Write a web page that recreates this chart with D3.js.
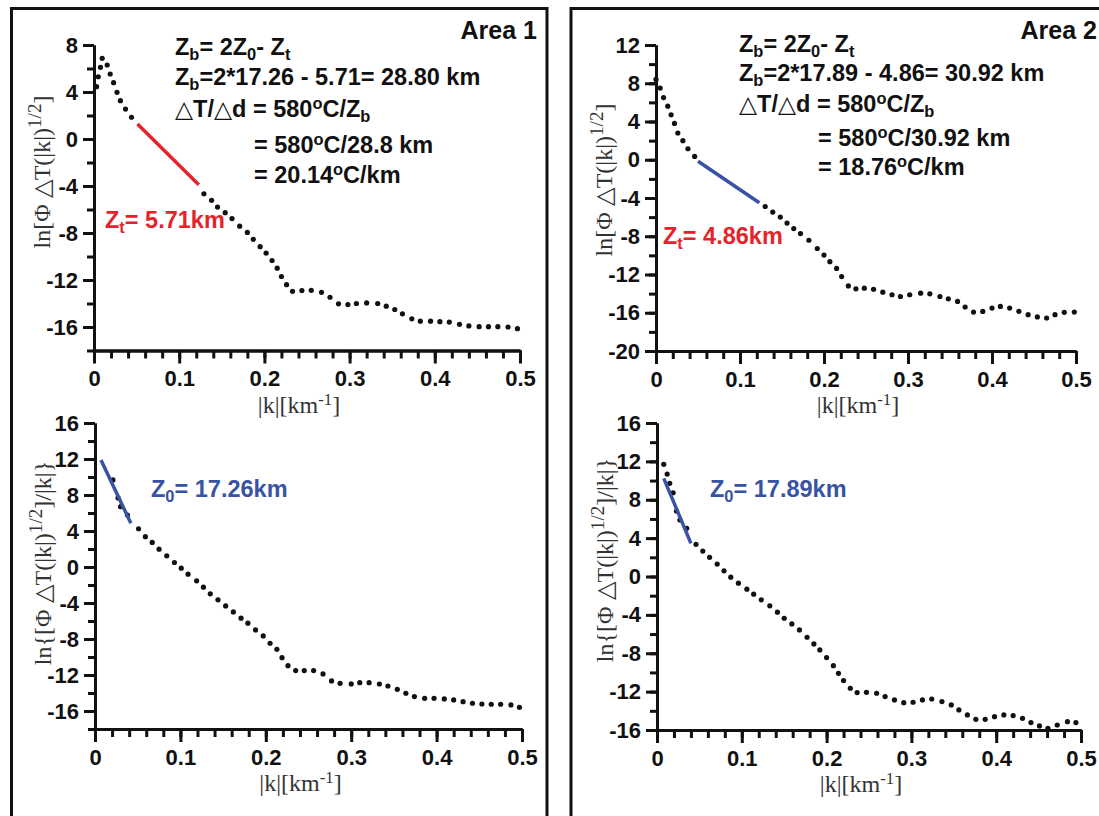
<!DOCTYPE html>
<html>
<head>
<meta charset="utf-8">
<script src="https://cdn.jsdelivr.net/npm/d3@7"></script>
<style>
  body { margin: 0; background: #fff; }
  svg { display: block; }
  .tick text { font-family: "Liberation Sans", Arial, sans-serif; font-weight: bold; font-size: 22px; fill: #111; }
  .note { font-family: "Liberation Sans", Arial, sans-serif; font-weight: bold; font-size: 23.5px; }
  .area { font-family: "Liberation Sans", Arial, sans-serif; font-weight: bold; font-size: 25px; fill: #111; }
  .title { font-family: "Liberation Serif", "Times New Roman", serif; font-size: 24px; fill: #333; }
</style>
</head>
<body>
<svg id="chart" width="1099" height="816"></svg>
<script>
// ---- data ----
const xMajor = [0, 0.1, 0.2, 0.3, 0.4, 0.5];

// Area 1, ln of amplitude spectrum
const kTop1 = [0.003,0.005,0.0076,0.0096,0.0155,0.019,0.023,0.027,0.031,0.037,0.044,
  0.129,0.138,0.145,0.154,0.162,0.171,0.180,0.187,0.195,0.202,0.209,0.215,0.220,0.226,0.233,
  0.244,0.255,0.267,0.277,0.287,0.298,0.308,0.320,0.333,0.343,0.353,0.362,0.373,0.383,
  0.395,0.406,0.417,0.429,0.440,0.452,0.463,0.474,0.486,0.497];
const lnTop1 = [4.45,5.30,6.10,6.87,6.30,5.53,4.79,3.97,3.26,2.55,1.85,
  -4.66,-5.22,-5.79,-6.27,-6.77,-7.42,-7.95,-8.54,-9.16,-9.72,-10.34,-10.99,-11.70,-12.4,-12.96,
  -12.9,-12.88,-13.05,-13.47,-14.03,-14.09,-14.0,-13.95,-14.0,-14.23,-14.51,-14.88,-15.3,-15.5,
  -15.5,-15.55,-15.58,-15.77,-15.91,-15.97,-15.97,-15.97,-16.0,-16.14];
const fitTop1 = [[0.051, 1.28], [0.123, -3.9]];

// Area 2, ln of amplitude spectrum
const kTop2 = [0.0,0.005,0.009,0.014,0.018,0.022,0.026,0.032,0.038,0.046,
  0.130,0.139,0.148,0.156,0.164,0.172,0.182,0.192,0.200,0.207,0.215,0.221,0.229,0.238,0.248,
  0.259,0.270,0.281,0.291,0.302,0.315,0.326,0.338,0.348,0.359,0.368,0.378,0.389,0.400,0.410,
  0.421,0.432,0.443,0.454,0.465,0.475,0.486,0.498];
const lnTop2 = [8.4,7.5,6.5,5.6,4.7,3.8,2.8,2.0,1.15,0.35,
  -4.89,-5.47,-5.99,-6.62,-7.2,-7.72,-8.42,-9.28,-9.97,-10.66,-11.36,-12.22,-13.19,-13.5,-13.43,
  -13.54,-13.85,-14.12,-14.3,-14.12,-13.95,-14.02,-14.3,-14.54,-14.82,-15.4,-15.93,-15.86,-15.51,-15.34,
  -15.51,-15.85,-16.2,-16.44,-16.55,-16.2,-15.96,-15.93];
const fitTop2 = [[0.05, -0.15], [0.123, -4.5]];

// Area 1, ln of amplitude / |k|
const kBot1 = [0.021,0.027,0.030,0.038,0.051,0.059,0.067,0.075,0.084,0.093,
  0.101,0.109,0.119,0.127,0.135,0.144,0.153,0.162,0.171,0.179,
  0.188,0.197,0.205,0.213,0.219,0.226,0.235,0.245,0.256,0.267,
  0.277,0.287,0.300,0.310,0.321,0.333,0.343,0.354,0.364,0.374,
  0.386,0.397,0.409,0.420,0.431,0.442,0.453,0.464,0.475,0.487,0.497];
const lnBot1 = [9.67,7.67,6.7,5.78,4.25,3.37,2.73,1.98,1.24,0.5,
  -0.13,-0.8,-1.54,-2.24,-2.98,-3.65,-4.32,-4.99,-5.69,-6.24,
  -6.99,-7.66,-8.47,-9.14,-10.07,-10.96,-11.51,-11.51,-11.51,-11.88,
  -12.66,-12.92,-12.99,-12.85,-12.85,-13.0,-13.22,-13.59,-14.03,-14.4,
  -14.59,-14.59,-14.66,-14.77,-14.96,-15.14,-15.22,-15.25,-15.25,-15.33,-15.59];
const fitBot1 = [[0.007, 11.9], [0.042, 4.86]];

// Area 2, ln of amplitude / |k|
const kBot2 = [0.008,0.012,0.015,0.019,0.023,0.027,0.035,0.046,0.054,0.062,
  0.071,0.079,0.087,0.096,0.106,0.114,0.123,0.133,0.142,0.150,
  0.159,0.168,0.177,0.185,0.192,0.200,0.208,0.214,0.220,0.228,
  0.236,0.247,0.259,0.269,0.280,0.291,0.302,0.313,0.324,0.336,
  0.347,0.356,0.366,0.376,0.387,0.398,0.409,0.420,0.431,0.441,
  0.451,0.461,0.472,0.484,0.494];
const lnBot2 = [11.69,10.68,9.71,8.73,6.82,5.89,5.02,3.35,2.65,2.0,
  1.29,0.59,-0.07,-0.7,-1.32,-1.84,-2.43,-3.06,-3.72,-4.35,
  -4.94,-5.57,-6.33,-7.03,-7.65,-8.45,-9.29,-10.09,-10.85,-11.65,
  -12.1,-12.07,-12.17,-12.52,-12.87,-13.15,-13.11,-12.87,-12.77,-13.04,
  -13.39,-13.91,-14.43,-14.89,-14.89,-14.61,-14.43,-14.5,-14.78,-15.23,
  -15.58,-15.83,-15.48,-15.13,-15.23];
const fitBot2 = [[0.008, 10.23], [0.040, 3.46]];

// annotation text: [text, 'sub' | 'sup' | 'tri' | null]
const area1Notes = [
  [["Z",null],["b","sub"],["= 2Z",null],["0","sub"],["- Z",null],["t","sub"]],
  [["Z",null],["b","sub"],["=2*17.26 - 5.71= 28.80 km",null]],
  [["\u25B3","tri"],["T/",null],["\u25B3","tri"],["d = 580",null],["o","sup"],["C/Z",null],["b","sub"]],
  [["= 580",null],["o","sup"],["C/28.8 km",null]],
  [["= 20.14",null],["o","sup"],["C/km",null]]
];
const area2Notes = [
  [["Z",null],["b","sub"],["= 2Z",null],["0","sub"],["- Z",null],["t","sub"]],
  [["Z",null],["b","sub"],["=2*17.89 - 4.86= 30.92 km",null]],
  [["\u25B3","tri"],["T/",null],["\u25B3","tri"],["d = 580",null],["o","sup"],["C/Z",null],["b","sub"]],
  [["= 580",null],["o","sup"],["C/30.92 km",null]],
  [["= 18.76",null],["o","sup"],["C/km",null]]
];
const ztText1 = [["Z",null],["t","sub"],["= 5.71km",null]];
const ztText2 = [["Z",null],["t","sub"],["= 4.86km",null]];
const z0Text1 = [["Z",null],["0","sub"],["= 17.26km",null]];
const z0Text2 = [["Z",null],["0","sub"],["= 17.89km",null]];
const yTitleTop = [["ln[\u03A6  \u25B3T(|k|)",null],["1/2","sup2"],["]",null]];
const yTitleBot = [["ln{[\u03A6  \u25B3T(|k|)",null],["1/2","sup2"],["]/|k|}",null]];
const xTitle = [["|k|[km",null],["-1","sup"],["]",null]];

const RED = "#e5232b";
const BLUE = "#3852a4";

const svg = d3.select("#chart");

// writes rich text with sub/superscripts into a <text>
function rich(sel, parts) {
  let shift = 0;
  parts.forEach(([t, kind]) => {
    let target = 0;
    if (kind === "sub") target = 5;
    if (kind === "sup") target = -8;
    if (kind === "sup2") target = -9;
    const ts = sel.append("tspan").attr("dy", target - shift).text(t);
    if (kind === "sub" || kind === "sup") ts.attr("font-size", "0.7em");
    if (kind === "sup2") ts.attr("font-size", "0.8em");
    if (kind === "tri") ts.attr("font-weight", "normal").attr("font-family", "DejaVu Sans");
    shift = target;
  });
  return sel;
}

function drawPanel(p) {
  const x = d3.scaleLinear().domain([0, 0.5]).range([p.left, p.right]);
  const y = d3.scaleLinear().domain(p.yDomain).range([p.bottom, p.top]);
  const g = svg.append("g");

  // x minor ticks
  g.append("g")
    .attr("transform", "translate(0," + p.bottom + ")")
    .call(d3.axisBottom(x).tickValues(d3.range(0, 0.5001, 0.02)).tickSize(8).tickSizeOuter(0).tickFormat(""));
  // x major ticks
  g.append("g")
    .attr("transform", "translate(0," + p.bottom + ")")
    .call(d3.axisBottom(x).tickValues(xMajor).tickSize(13).tickSizeOuter(0).tickPadding(7)
      .tickFormat(d => d === 0 ? "0" : d3.format(".1f")(d)));
  // y minor ticks
  g.append("g")
    .attr("transform", "translate(" + p.left + ",0)")
    .call(d3.axisLeft(y).tickValues(d3.range(p.yDomain[0], p.yDomain[1] + 0.1, 2)).tickSize(7).tickSizeOuter(0).tickFormat(""));
  // y major ticks
  g.append("g")
    .attr("transform", "translate(" + p.left + ",0)")
    .call(d3.axisLeft(y).tickValues(p.yMajor).tickSize(11).tickSizeOuter(0).tickPadding(5)
      .tickFormat(d => String(d)));

  g.selectAll(".domain, .tick line").attr("stroke", "#111").attr("stroke-width", 3);

  // dots
  g.append("g").selectAll("circle")
    .data(p.k.map((k, i) => [k, p.v[i]]))
    .join("circle")
    .attr("cx", d => x(d[0]))
    .attr("cy", d => y(d[1]))
    .attr("r", 2.6)
    .attr("fill", "#111");

  // fitted segment
  g.append("path")
    .datum(p.fit)
    .attr("d", d3.line().x(d => x(d[0])).y(d => y(d[1])))
    .attr("stroke", p.fitColor)
    .attr("stroke-width", 3.5)
    .attr("fill", "none");

  // axis titles
  rich(g.append("text").attr("class", "title").attr("text-anchor", "middle")
    .attr("x", (p.left + p.right) / 2 - 8).attr("y", p.bottom + 62), xTitle);
  rich(g.append("text").attr("class", "title").attr("text-anchor", "middle")
    .attr("transform", "translate(" + (p.left - 44) + "," + p.yTitleY + ") rotate(-90)"), p.yTitle);
}

// frames
svg.append("path").attr("d", "M11.5,830V8.5H547V830").attr("fill", "none").attr("stroke", "#111").attr("stroke-width", 3);
svg.append("path").attr("d", "M571,830V8.5H1110").attr("fill", "none").attr("stroke", "#111").attr("stroke-width", 3);

drawPanel({left: 94, right: 520, top: 45, bottom: 350.5, yDomain: [-18, 8], yMajor: [-16, -12, -8, -4, 0, 4, 8],
  k: kTop1, v: lnTop1, fit: fitTop1, fitColor: RED, yTitle: yTitleTop, yTitleY: 172});
drawPanel({left: 656, right: 1076, top: 45, bottom: 351, yDomain: [-20, 12], yMajor: [-20, -16, -12, -8, -4, 0, 4, 8, 12],
  k: kTop2, v: lnTop2, fit: fitTop2, fitColor: BLUE, yTitle: yTitleTop, yTitleY: 180});
drawPanel({left: 95, right: 522, top: 423, bottom: 729, yDomain: [-18, 16], yMajor: [-16, -12, -8, -4, 0, 4, 8, 12, 16],
  k: kBot1, v: lnBot1, fit: fitBot1, fitColor: BLUE, yTitle: yTitleBot, yTitleY: 563});
drawPanel({left: 657, right: 1081, top: 423, bottom: 730, yDomain: [-16, 16], yMajor: [-16, -12, -8, -4, 0, 4, 8, 12, 16],
  k: kBot2, v: lnBot2, fit: fitBot2, fitColor: BLUE, yTitle: yTitleBot, yTitleY: 560});

// annotations
function notes(lines, x1, x2, ys) {
  lines.forEach((parts, i) => {
    rich(svg.append("text").attr("class", "note").style("fill", "#111")
      .attr("x", i < 3 ? x1 : x2).attr("y", ys[i]), parts);
  });
}
notes(area1Notes, 175, 254, [55, 85, 117, 153, 183]);
notes(area2Notes, 739, 818, [52, 81, 112, 146, 175]);

svg.append("text").attr("class", "area").attr("text-anchor", "end").attr("x", 537).attr("y", 39).text("Area 1");
svg.append("text").attr("class", "area").attr("text-anchor", "end").attr("x", 1097).attr("y", 39).text("Area 2");

rich(svg.append("text").attr("class", "note").style("fill", RED).attr("x", 105).attr("y", 228), ztText1);
rich(svg.append("text").attr("class", "note").style("fill", RED).attr("x", 663).attr("y", 244), ztText2);
rich(svg.append("text").attr("class", "note").style("fill", BLUE).attr("x", 151).attr("y", 497), z0Text1);
rich(svg.append("text").attr("class", "note").style("fill", BLUE).attr("x", 710).attr("y", 497), z0Text2);
</script>
</body>
</html>
